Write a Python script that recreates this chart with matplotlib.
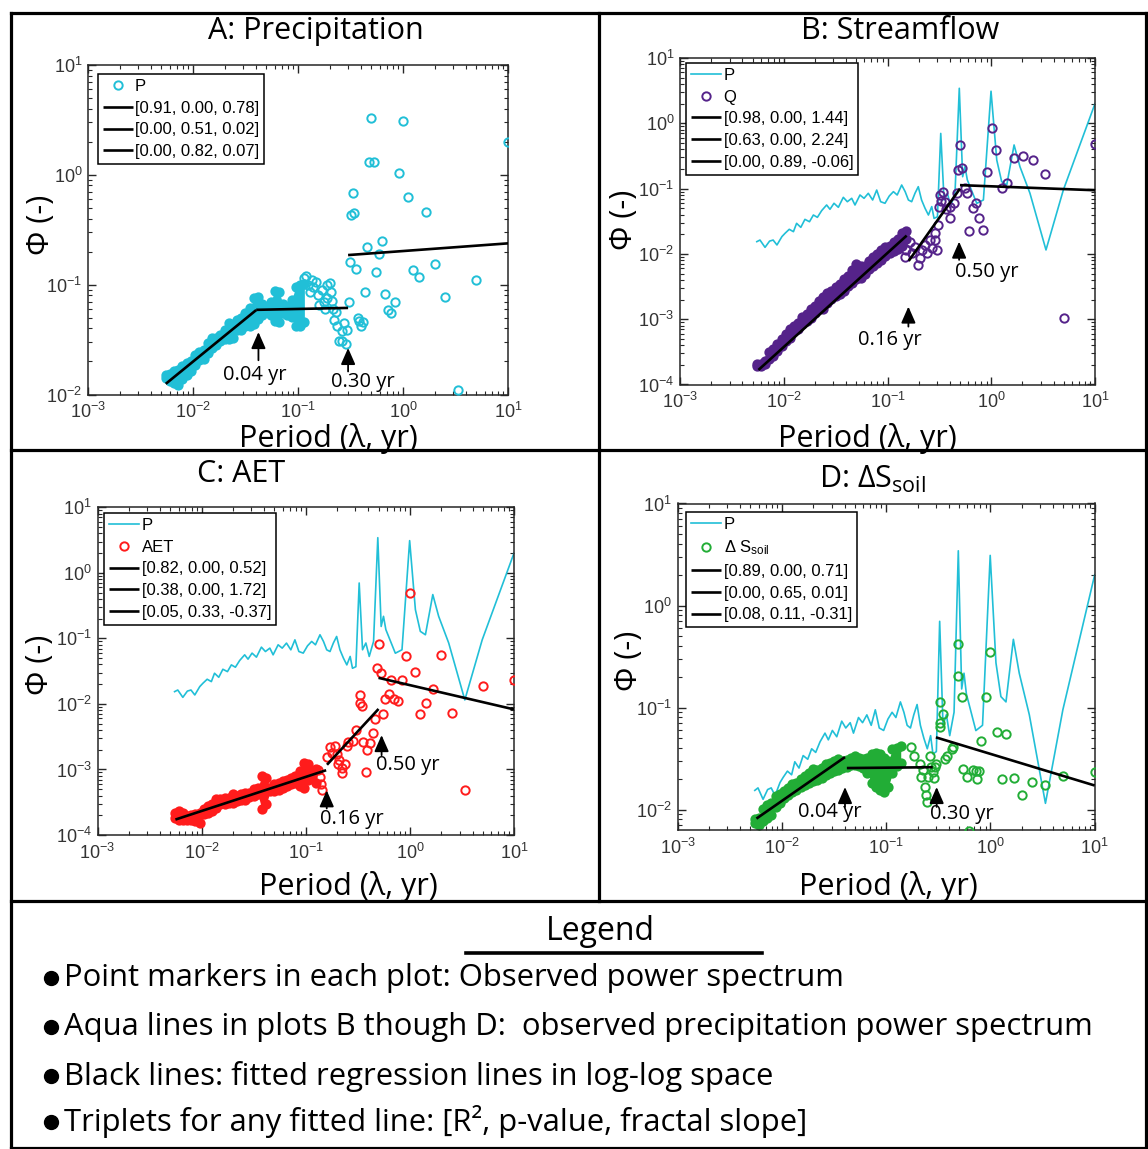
import numpy as np
import matplotlib
matplotlib.use("Agg")
import matplotlib.pyplot as plt
from matplotlib.lines import Line2D
from matplotlib.ticker import LogLocator, NullFormatter

# ---------------- data ----------------
dense_period = [0.0055, 0.0060, 0.0066, 0.0072, 0.0079, 0.0087, 0.0096, 0.0105, 0.0115, 0.0126,
                0.0138, 0.0151, 0.0166, 0.0182, 0.0200, 0.0219, 0.0240, 0.0263, 0.0288, 0.0316,
                0.0347, 0.0380, 0.0417, 0.0457, 0.0501, 0.0550, 0.0603, 0.0661, 0.0724, 0.0794,
                0.0871, 0.0955, 0.1050, 0.1150, 0.1260, 0.1380, 0.1510]

# Panel A: precipitation spectrum (dense band low/high, then sparse points)
A_dense_hi = [0.0150, 0.0155, 0.0162, 0.0168, 0.0180, 0.0193, 0.0200, 0.0227, 0.0245, 0.0253,
              0.0292, 0.0325, 0.0325, 0.0350, 0.0386, 0.0445, 0.0430, 0.0480, 0.0495, 0.0550,
              0.0610, 0.0750, 0.0770, 0.0660, 0.0610, 0.0700, 0.0880, 0.0850, 0.0660, 0.0630,
              0.0730, 0.0960, 0.0990, 0.1020]
A_dense_lo = [0.0140, 0.0134, 0.0128, 0.0122, 0.0139, 0.0150, 0.0162, 0.0184, 0.0205, 0.0212,
              0.0238, 0.0265, 0.0285, 0.0310, 0.0318, 0.0318, 0.0330, 0.0390, 0.0390, 0.0420,
              0.0420, 0.0437, 0.0490, 0.0530, 0.0560, 0.0530, 0.0470, 0.0455, 0.0550, 0.0530,
              0.0510, 0.0420, 0.0420, 0.0455]
A_period = [0.115, 0.12, 0.125, 0.13, 0.135, 0.14, 0.15, 0.155, 0.16, 0.17,
            0.175, 0.18, 0.19, 0.19, 0.2, 0.205, 0.21, 0.215, 0.22, 0.228,
            0.235, 0.245, 0.262, 0.265, 0.273, 0.288, 0.293, 0.303, 0.3125, 0.323,
            0.333, 0.345, 0.357, 0.37, 0.385, 0.4, 0.417, 0.435, 0.4545, 0.476,
            0.5, 0.526, 0.556, 0.588, 0.625, 0.667, 0.714, 0.769, 0.833, 0.909,
            1.0, 1.11, 1.25, 1.43, 1.67, 2.0, 2.5, 3.33, 5.0, 10.0]
A_value = [0.115, 0.12, 0.10, 0.085, 0.11, 0.095, 0.105, 0.08, 0.065, 0.09,
           0.07, 0.06, 0.10, 0.075, 0.104, 0.085, 0.071, 0.06, 0.048, 0.056,
           0.042, 0.031, 0.038, 0.031, 0.045, 0.029, 0.039, 0.069, 0.162, 0.43,
           0.68, 0.45, 0.14, 0.05, 0.047, 0.042, 0.046, 0.086, 0.22, 1.3,
           3.3, 1.3, 0.13, 0.19, 0.25, 0.082, 0.059, 0.055, 0.069, 1.03,
           3.06, 0.63, 0.137, 0.117, 0.456, 0.153, 0.077, 0.011, 0.111, 2.0]

# Panel B: streamflow
B_dense_hi = [0.000205, 0.000205, 0.000232, 0.00031, 0.00035, 0.00042, 0.0005, 0.0006, 0.0007, 0.00079,
              0.00089, 0.00107, 0.0012, 0.00143, 0.0016, 0.00193, 0.00216, 0.00256, 0.00275, 0.0031,
              0.00348, 0.0041, 0.0046, 0.0056, 0.007, 0.0066, 0.0066, 0.0079, 0.0089, 0.0100,
              0.0113, 0.0126, 0.0134, 0.0150, 0.0169, 0.0207, 0.0222]
B_dense_lo = [0.000195, 0.00019, 0.000204, 0.000243, 0.000273, 0.00033, 0.00039, 0.00046, 0.00052, 0.00066,
              0.0007, 0.00084, 0.00094, 0.00105, 0.00126, 0.00141, 0.00141, 0.00179, 0.00202, 0.00226,
              0.0024, 0.00272, 0.0032, 0.0036, 0.0041, 0.0043, 0.0049, 0.0058, 0.0065, 0.0073,
              0.0082, 0.0093, 0.0104, 0.0110, 0.0117, 0.0132, 0.0167]
B_period = [0.148, 0.152, 0.165, 0.171, 0.184, 0.198, 0.206, 0.213, 0.23, 0.238,
            0.257, 0.267, 0.287, 0.29, 0.302, 0.309, 0.316, 0.321, 0.33, 0.345,
            0.358, 0.37, 0.40, 0.40, 0.438, 0.465, 0.475, 0.50, 0.526, 0.558,
            0.589, 0.615, 0.663, 0.708, 0.768, 0.84, 0.904, 1.01, 1.10, 1.26,
            1.43, 1.67, 2.01, 2.51, 3.32, 5.0, 10.0]
B_value = [0.0091, 0.0115, 0.0154, 0.0102, 0.0129, 0.0067, 0.0086, 0.0115, 0.0137, 0.0102,
           0.0163, 0.0121, 0.0163, 0.021, 0.0115, 0.0277, 0.053, 0.0798, 0.065, 0.0898,
           0.063, 0.048, 0.053, 0.035, 0.0596, 0.0847, 0.193, 0.466, 0.205, 0.101,
           0.0847, 0.0227, 0.05, 0.0596, 0.035, 0.0232, 0.182, 0.84, 0.39, 0.101,
           0.12, 0.298, 0.32, 0.274, 0.168, 0.00105, 0.49]

# Panel C: AET
C_dense_hi = [0.00022, 0.000234, 0.000213, 0.000195, 0.000203, 0.000209, 0.00022, 0.000246, 0.000278, 0.000296,
              0.000352, 0.000352, 0.000373, 0.000373, 0.00042, 0.000395, 0.00042, 0.000445, 0.000445, 0.0005,
              0.00053, 0.0008, 0.00075, 0.00053, 0.0006, 0.00063, 0.00067, 0.0007, 0.00075, 0.0008,
              0.00095, 0.00127, 0.0012, 0.00095, 0.001]
C_dense_lo = [0.00018, 0.000171, 0.000171, 0.000171, 0.000171, 0.000163, 0.000154, 0.000206, 0.000218, 0.000231,
              0.00026, 0.000293, 0.000293, 0.00031, 0.00031, 0.00033, 0.000347, 0.000347, 0.000378, 0.0004,
              0.000415, 0.000245, 0.000293, 0.00047, 0.00047, 0.00049, 0.00052, 0.00055, 0.00059, 0.00062,
              0.00055, 0.00052, 0.00069, 0.0008, 0.00062]
C_period = [0.132, 0.137, 0.139, 0.142, 0.159, 0.171, 0.177, 0.191, 0.198, 0.206,
            0.21, 0.222, 0.225, 0.239, 0.248, 0.257, 0.287, 0.304, 0.33, 0.333,
            0.35, 0.358, 0.38, 0.385, 0.415, 0.44, 0.466, 0.48, 0.506, 0.528,
            0.557, 0.578, 0.627, 0.665, 0.711, 0.776, 0.848, 0.912, 1.0, 1.12,
            1.25, 1.43, 1.68, 2.0, 2.52, 3.36, 5.0, 10.0]
C_value = [0.00098, 0.00077, 0.00061, 0.00048, 0.00156, 0.00221, 0.0018, 0.0023, 0.00175, 0.00123,
           0.00139, 0.00104, 0.00087, 0.00123, 0.0023, 0.0026, 0.0027, 0.004, 0.0102, 0.0136,
           0.0094, 0.0026, 0.00092, 0.00197, 0.0025, 0.00355, 0.0058, 0.0348, 0.0818, 0.0298,
           0.007, 0.0117, 0.014, 0.0231, 0.0117, 0.011, 0.0231, 0.054, 0.486, 0.0305,
           0.0071, 0.0102, 0.0168, 0.0556, 0.0073, 0.00048, 0.0187, 0.023]

# Panel D: soil storage change
D_dense_hi = [0.008, 0.0083, 0.0101, 0.0112, 0.0116, 0.0136, 0.0141, 0.0152, 0.0164, 0.0177,
              0.0184, 0.0197, 0.0212, 0.023, 0.025, 0.0242, 0.0257, 0.0277, 0.0288, 0.0299,
              0.031, 0.0299, 0.0303, 0.0321, 0.0334, 0.0321, 0.031, 0.0321, 0.0348, 0.036,
              0.0348, 0.0321, 0.0299, 0.039, 0.0404, 0.042]
D_dense_lo = [0.0074, 0.007, 0.0077, 0.0082, 0.0089, 0.0107, 0.0115, 0.0129, 0.0139, 0.015,
              0.0156, 0.0168, 0.0175, 0.0182, 0.0189, 0.0196, 0.0203, 0.022, 0.0228, 0.0237,
              0.0246, 0.0256, 0.0261, 0.0276, 0.0276, 0.0265, 0.0256, 0.0228, 0.0182, 0.0168,
              0.0156, 0.015, 0.0168, 0.0228, 0.0265, 0.0285]
D_period = [0.175, 0.187, 0.211, 0.218, 0.227, 0.235, 0.24, 0.244, 0.252, 0.263,
            0.27, 0.279, 0.29, 0.294, 0.30, 0.325, 0.328, 0.33, 0.353, 0.363,
            0.386, 0.425, 0.44, 0.49, 0.492, 0.537, 0.55, 0.59, 0.627, 0.675,
            0.73, 0.75, 0.78, 0.82, 0.906, 0.99, 1.15, 1.28, 1.41, 1.68,
            2.03, 2.53, 3.33, 5.0, 10.0]
D_value = [0.041, 0.0335, 0.0281, 0.0208, 0.0243, 0.0166, 0.0138, 0.0119, 0.0208, 0.0335,
           0.026, 0.0235, 0.0202, 0.026, 0.028, 0.064, 0.113, 0.0705, 0.087, 0.0315,
           0.0335, 0.0394, 0.041, 0.206, 0.42, 0.126, 0.025, 0.0208, 0.0062, 0.0246,
           0.024, 0.0198, 0.024, 0.047, 0.126, 0.348, 0.0574, 0.0198, 0.0553, 0.0203,
           0.0138, 0.0187, 0.0174, 0.0213, 0.0233]

# Precipitation spectrum line shown in panels B-D
P_line_period = [0.0055, 0.0059, 0.0066, 0.0073, 0.0079, 0.0086, 0.0096, 0.0103, 0.0113, 0.0124,
                 0.0133, 0.0146, 0.0160, 0.0177, 0.0193, 0.0211, 0.0232, 0.0259, 0.0279, 0.0305,
                 0.0336, 0.0375, 0.0410, 0.0452, 0.0486, 0.0543, 0.0594, 0.0653, 0.0719, 0.0787,
                 0.0859, 0.0946, 0.104, 0.114, 0.124, 0.137, 0.148, 0.159, 0.171, 0.184,
                 0.198, 0.213, 0.230, 0.248, 0.267, 0.281, 0.303, 0.326, 0.351, 0.378,
                 0.407, 0.448, 0.492, 0.530, 0.558, 0.588, 0.725, 0.840, 0.995, 1.13,
                 1.26, 1.41, 1.66, 1.89, 2.36, 3.37, 4.95, 10.0]
P_line_value = [0.0154, 0.0163, 0.0126, 0.0157, 0.0163, 0.0137, 0.0184, 0.0207, 0.0238, 0.0219,
                0.0294, 0.0255, 0.0338, 0.0311, 0.0394, 0.0363, 0.0460, 0.0561, 0.0482, 0.0596,
                0.0517, 0.0735, 0.0630, 0.0710, 0.0561, 0.0798, 0.0710, 0.0847, 0.0669, 0.0950,
                0.0630, 0.0596, 0.0770, 0.0898, 0.0798, 0.1135, 0.0898, 0.0669, 0.0630, 0.0847,
                0.1070, 0.0669, 0.0500, 0.0394, 0.0530, 0.0350, 0.0370, 0.70, 0.067, 0.085,
                0.053, 0.090, 3.44, 0.152, 0.217, 0.136, 0.0594, 0.067, 3.1, 0.274,
                0.128, 0.1135, 0.466, 0.217, 0.085, 0.0115, 0.095, 2.0]

# Fitted segments: start period, end period, value at start, fractal slope
A_fit_x0 = [0.0055, 0.04, 0.30]; A_fit_x1 = [0.04, 0.30, 10.0]
A_fit_y0 = [0.0125, 0.059, 0.186]; A_fit_slope = [0.78, 0.02, 0.07]
B_fit_x0 = [0.0057, 0.16, 0.50]; B_fit_x1 = [0.153, 0.50, 10.0]
B_fit_y0 = [0.000167, 0.0078, 0.113]; B_fit_slope = [1.44, 2.24, -0.06]
C_fit_x0 = [0.0056, 0.16, 0.50]; C_fit_x1 = [0.157, 0.50, 10.0]
C_fit_y0 = [0.000172, 0.00118, 0.025]; C_fit_slope = [0.52, 1.72, -0.37]
D_fit_x0 = [0.0057, 0.042, 0.30]; D_fit_x1 = [0.0403, 0.28, 10.0]
D_fit_y0 = [0.00815, 0.0255, 0.051]; D_fit_slope = [0.71, 0.01, -0.31]

A_labels = ['[0.91, 0.00, 0.78]', '[0.00, 0.51, 0.02]', '[0.00, 0.82, 0.07]']
B_labels = ['[0.98, 0.00, 1.44]', '[0.63, 0.00, 2.24]', '[0.00, 0.89, -0.06]']
C_labels = ['[0.82, 0.00, 0.52]', '[0.38, 0.00, 1.72]', '[0.05, 0.33, -0.37]']
D_labels = ['[0.89, 0.00, 0.71]', '[0.00, 0.65, 0.01]', '[0.08, 0.11, -0.31]']

legend_lines = ["Point markers in each plot: Observed power spectrum",
                "Aqua lines in plots B though D:  observed precipitation power spectrum",
                "Black lines: fitted regression lines in log-log space",
                "Triplets for any fitted line: [R\u00b2, p-value, fractal slope]"]

# ---------------- styling ----------------
W, H = 1148, 1149
plt.rcParams['font.family'] = ['Liberation Sans', 'DejaVu Sans']
plt.rcParams['mathtext.fontset'] = 'custom'
plt.rcParams['mathtext.rm'] = 'Liberation Sans'
plt.rcParams['mathtext.it'] = 'Liberation Sans:italic'
plt.rcParams['mathtext.bf'] = 'Liberation Sans:bold'

C_P = '#21bfd7'
C_Q = '#55238a'
C_AET = '#ff1c1c'
C_S = '#22ad36'
AXC = '#262626'
TFONT = ['Open Sans', 'DejaVu Sans']
MS, MEW = 6.0, 1.4

fig = plt.figure(figsize=(W / 100, H / 100), dpi=100)
fig.patch.set_facecolor('white')


def fx(x):
    return x / W


def fy(y):
    return 1 - y / H


def make_axes(left, top, right, bottom, ylim):
    ax = fig.add_axes([fx(left), fy(bottom), (right - left) / W, (bottom - top) / H])
    ax.set_xscale('log')
    ax.set_yscale('log')
    ax.set_xlim(1e-3, 10)
    ax.set_ylim(*ylim)
    for sp in ax.spines.values():
        sp.set_color(AXC)
        sp.set_linewidth(1.1)
    for axis in (ax.xaxis, ax.yaxis):
        axis.set_major_locator(LogLocator(base=10, numticks=20))
        axis.set_minor_locator(LogLocator(base=10, subs=np.arange(2, 10), numticks=20))
        axis.set_minor_formatter(NullFormatter())
    ax.tick_params(which='both', direction='in', top=True, right=True,
                   color=AXC, labelcolor='#333333', labelsize=13)
    ax.tick_params(which='major', length=5.5, width=1.0)
    ax.tick_params(which='minor', length=3.0, width=0.8)
    ax.tick_params(axis='x', which='major', pad=5.5)
    ax.tick_params(axis='y', which='major', pad=4)
    ax.set_facecolor('white')
    return ax


def draw_dense(ax, lo, hi, color):
    p = dense_period[:len(lo)]
    ax.fill_between(p, lo, hi, color=color, lw=0, zorder=2)
    ax.plot(p, lo, 'o', mfc=color, mec=color, ms=MS, mew=MEW, zorder=2)
    ax.plot(p, hi, 'o', mfc=color, mec=color, ms=MS, mew=MEW, zorder=2)


def draw_fits(ax, x0s, x1s, y0s, slopes):
    handles = []
    for x0, x1, y0, s in zip(x0s, x1s, y0s, slopes):
        xs = np.array([x0, x1])
        ys = y0 * (xs / x0) ** s
        h, = ax.plot(xs, ys, color='black', lw=1.9, zorder=5, solid_capstyle='butt')
        handles.append(h)
    return handles


def arrow(ax, x, ytip, ytail, text, tx, ty):
    ax.annotate('', xy=(x, ytip), xytext=(x, ytail),
                arrowprops=dict(arrowstyle='-|>,head_length=0.5,head_width=0.22',
                                color='black', lw=1.3, shrinkA=0, shrinkB=0,
                                mutation_scale=20), zorder=6)
    ax.text(tx, ty, text, ha='center', va='center', fontsize=14.5,
            family=TFONT, color='black', zorder=6)


def add_legend(ax, handles, labels, x, y):
    leg = ax.legend(handles, labels, loc='upper left', bbox_to_anchor=(fx(x), fy(y)),
                    bbox_transform=fig.transFigure, borderaxespad=0, fontsize=12,
                    frameon=True, fancybox=False, framealpha=1, edgecolor='black',
                    handlelength=1.8, handletextpad=0.15, labelspacing=0.4,
                    borderpad=0.3)
    leg.get_frame().set_linewidth(1.1)
    leg.set_zorder(10)
    return leg


# ---------------- Panel A ----------------
axA = make_axes(88, 65, 508, 394.5, (0.01, 10))
draw_dense(axA, A_dense_lo, A_dense_hi, C_P)
hA, = axA.plot(A_period, A_value, 'o', mfc='none', mec=C_P, ms=MS, mew=MEW, zorder=3)
fA = draw_fits(axA, A_fit_x0, A_fit_x1, A_fit_y0, A_fit_slope)
arrow(axA, 0.042, 0.037, 0.0205, '0.04 yr', 0.0389, 0.0152)
arrow(axA, 0.30, 0.0265, 0.0162, '0.30 yr', 0.416, 0.0131)
add_legend(axA, [hA] + fA, ['P'] + A_labels, 97.6, 74)

# ---------------- Panel B ----------------
axB = make_axes(680, 58, 1095, 384.5, (1e-4, 10))
pB, = axB.plot(P_line_period, P_line_value, color=C_P, lw=1.2, zorder=2)
draw_dense(axB, B_dense_lo, B_dense_hi, C_Q)
hB, = axB.plot(B_period, B_value, 'o', mfc='none', mec=C_Q, ms=MS, mew=MEW, zorder=3)
fB = draw_fits(axB, B_fit_x0, B_fit_x1, B_fit_y0, B_fit_slope)
arrow(axB, 0.159, 0.00156, 0.00077, '0.16 yr', 0.106, 0.00048)
arrow(axB, 0.49, 0.0154, 0.0081, '0.50 yr', 0.91, 0.00528)
add_legend(axB, [pB, hB] + fB, ['P', 'Q'] + B_labels, 686, 63)

# ---------------- Panel C ----------------
axC = make_axes(97.5, 507.3, 514, 835, (1e-4, 10))
pC, = axC.plot(P_line_period, P_line_value, color=C_P, lw=1.2, zorder=2)
draw_dense(axC, C_dense_lo, C_dense_hi, C_AET)
hC, = axC.plot(C_period, C_value, 'o', mfc='none', mec=C_AET, ms=MS, mew=MEW, zorder=3)
fC = draw_fits(axC, C_fit_x0, C_fit_x1, C_fit_y0, C_fit_slope)
arrow(axC, 0.159, 0.00048, 0.000254, '0.16 yr', 0.28, 0.000175)
arrow(axC, 0.535, 0.00334, 0.00165, '0.50 yr', 0.96, 0.00116)
add_legend(axC, [pC, hC] + fC, ['P', 'AET'] + C_labels, 104, 513)

# ---------------- Panel D ----------------
axD = make_axes(677.6, 503.5, 1094.7, 830, (0.0063, 10))
pD, = axD.plot(P_line_period, P_line_value, color=C_P, lw=1.2, zorder=2)
draw_dense(axD, D_dense_lo, D_dense_hi, C_S)
hD, = axD.plot(D_period, D_value, 'o', mfc='none', mec=C_S, ms=MS, mew=MEW, zorder=3)
fD = draw_fits(axD, D_fit_x0, D_fit_x1, D_fit_y0, D_fit_slope)
arrow(axD, 0.0403, 0.0166, 0.0106, '0.04 yr', 0.0289, 0.0095)
arrow(axD, 0.305, 0.0166, 0.0106, '0.30 yr', 0.533, 0.0091)
add_legend(axD, [pD, hD] + fD, ['P', r'$\mathdefault{\Delta}$ S$_{\mathdefault{soil}}$'] + D_labels, 686, 512)

# ---------------- titles and axis labels ----------------
title_kw = dict(ha='center', va='center', fontsize=22, family=TFONT, color='black')
fig.text(fx(316), fy(31), 'A: Precipitation', **title_kw)
fig.text(fx(900), fy(31), 'B: Streamflow', **title_kw)
fig.text(fx(241), fy(474), 'C: AET', **title_kw)
fig.text(fx(872), fy(479), r'D: $\mathdefault{\Delta}$S$_{\mathdefault{soil}}$', **title_kw)

lab_kw = dict(ha='center', va='center', fontsize=22, family=TFONT, color='black')
for (x, y) in [(328, 439), (867, 439), (348, 887), (888, 887)]:
    fig.text(fx(x), fy(y), 'Period (\u03bb, yr)', **lab_kw)
for (x, y) in [(41, 225), (624, 220), (40, 665), (629, 661)]:
    fig.text(fx(x), fy(y), '\u03a6 (-)', rotation=90, **lab_kw)

# ---------------- frame lines ----------------
def fline(xs, ys, lw=2.3):
    fig.add_artist(Line2D([fx(v) for v in xs], [fy(v) for v in ys], color='black',
                          lw=lw, transform=fig.transFigure, solid_capstyle='projecting'))

fline([11, 1146], [13, 13])
fline([11, 11], [13, 1148])
fline([1146, 1146], [13, 1148])
fline([599, 599], [13, 901])
fline([11, 1146], [450, 450])
fline([11, 1146], [901, 901])
fline([11, 1146], [1148, 1148])

# ---------------- bottom legend ----------------
fig.text(fx(600), fy(931), 'Legend', ha='center', va='center', fontsize=23, family=TFONT)
fline([466, 762], [953, 953], lw=2.6)
for i, (txt, yy) in enumerate(zip(legend_lines, [978, 1027, 1076, 1122])):
    fig.add_artist(Line2D([fx(51)], [fy(yy)], marker='o', ms=10, color='black',
                          transform=fig.transFigure))
    fig.text(fx(64), fy(yy), txt, ha='left', va='center', fontsize=22.3, family=TFONT)

fig.savefig('out.png', dpi=100, facecolor='white')
